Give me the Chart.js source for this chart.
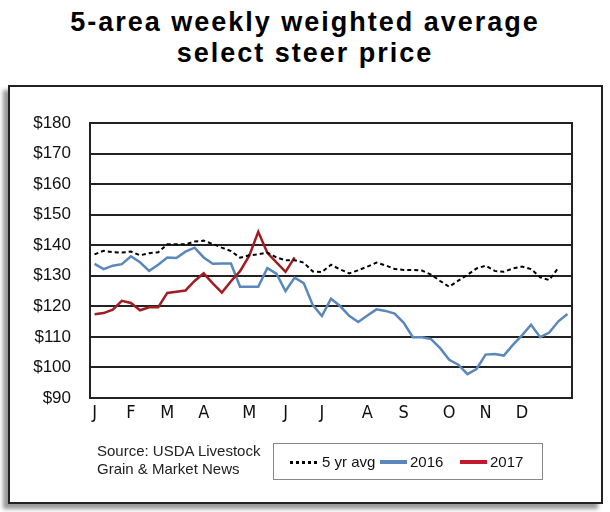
<!DOCTYPE html>
<html>
<head>
<meta charset="utf-8">
<script src="https://cdn.jsdelivr.net/npm/chart.js@4.4.1/dist/chart.umd.min.js"></script>
<style>
  html, body { margin: 0; padding: 0; background: #fff; }
  #page { position: relative; width: 610px; height: 512px; overflow: hidden; background: #fff; }
  #title {
    position: absolute; left: 0; top: 7px; width: 610px; text-align: center;
    font-family: "Liberation Sans", Arial, sans-serif; font-weight: bold;
    font-size: 27px; line-height: 31px; letter-spacing: 2px; color: #000;
  }
  #frame {
    position: absolute; left: 8px; top: 85px; width: 591px; height: 415px;
    border: 2px solid #222; box-shadow: -5px 5px 4px #999; background: #fff;
  }
  #chart { position: absolute; left: 0; top: 0; }
  #source {
    position: absolute; left: 97px; top: 442px;
    font-family: "Liberation Sans", Arial, sans-serif; font-size: 15px; line-height: 18px; color: #222;
  }
  #legend {
    position: absolute; left: 273px; top: 443px; width: 268px; height: 35px;
    border: 1px solid #888; background: #fff;
    font-family: "Liberation Sans", Arial, sans-serif; font-size: 15px; color: #111;
  }
  .item { position: absolute; top: 9px; line-height: 18px; }
  .swatch { position: absolute; top: 17px; width: 27px; }
</style>
</head>
<body>
<div id="page">
  <div id="title">5-area weekly weighted average<br>select steer price</div>
  <div id="frame"></div>
  <canvas id="chart" width="610" height="512"></canvas>
  <div id="source">Source: USDA Livestock<br>Grain &amp; Market News</div>
  <div id="legend">
    <div class="swatch" style="left:16px; border-top:3px dotted #000;"></div>
    <div class="item" style="left:48px;">5 yr avg</div>
    <div class="swatch" style="left:106px; top:16px; height:4px; background:#5b87bd;"></div>
    <div class="item" style="left:136px;">2016</div>
    <div class="swatch" style="left:186px; top:16px; height:4px; background:#c21a2c;"></div>
    <div class="item" style="left:216px;">2017</div>
  </div>
</div>
<script>
// month letters and the week each one sits on
const months = ['J', 'F', 'M', 'A', 'M', 'J', 'J', 'A', 'S', 'O', 'N', 'D'];
const monthWeeks = [0, 4, 8, 12, 17, 21, 25, 30, 34, 39, 43, 47];
const weekCount = 53;

// weekly prices, $/cwt
const fiveYrAvg = [137.0, 138.2, 137.7, 137.6, 137.9, 136.7, 137.4, 137.7, 140.3, 140.3,
  140.3, 141.2, 141.5, 140.4, 139.2, 138.1, 135.9, 136.7, 137.0, 137.6,
  136.0, 135.1, 135.1, 134.3, 131.4, 131.2, 133.6, 132.1, 130.8, 131.8,
  133.0, 134.3, 133.4, 132.2, 131.9, 131.9, 131.7, 130.4, 128.3, 126.4,
  128.4, 130.3, 132.4, 133.3, 131.6, 131.3, 132.4, 133.0, 132.2, 129.5,
  128.6, 132.6];
const y2016 = [133.9, 132.2, 133.3, 133.8, 136.4, 134.4, 131.6, 133.6, 136.0, 135.8,
  137.9, 139.2, 136.0, 133.9, 134.0, 134.0, 126.4, 126.4, 126.4, 132.5,
  130.7, 125.0, 129.4, 127.6, 120.4, 116.8, 122.5, 120.1, 116.9, 114.9,
  117.0, 119.0, 118.5, 117.6, 114.6, 109.9, 109.9, 109.3, 106.3, 102.5,
  100.9, 97.8, 99.5, 104.2, 104.4, 103.9, 107.4, 110.5, 114.0, 109.9,
  111.4, 115.1, 117.5];
const y2017 = [117.4, 117.8, 118.9, 121.8, 121.1, 118.7, 119.7, 119.7, 124.4, 124.8,
  125.2, 128.3, 130.8, 127.5, 124.5, 128.2, 131.5, 136.5, 144.4, 137.5,
  134.4, 131.3, 136.0];

const yMin = 90, yMax = 180, yStep = 10;

const labels = [];
for (let i = 0; i < weekCount; i++) labels.push('');
monthWeeks.forEach((w, i) => { labels[w] = months[i]; });

// outline round the plot area
const plotBorder = {
  id: 'plotBorder',
  afterDraw(chart) {
    const a = chart.chartArea;
    const ctx = chart.ctx;
    ctx.save();
    ctx.strokeStyle = '#222';
    ctx.lineWidth = 2;
    ctx.strokeRect(a.left, a.top, a.right - a.left, a.bottom - a.top);
    ctx.restore();
  }
};

new Chart(document.getElementById('chart'), {
  type: 'line',
  data: {
    labels: labels,
    datasets: [
      {
        label: '5 yr avg', data: fiveYrAvg, borderColor: '#000', borderWidth: 2,
        borderDash: [4, 3], pointRadius: 0, tension: 0, order: 1
      },
      {
        label: '2016', data: y2016, borderColor: '#5b87bd', borderWidth: 2.5,
        pointRadius: 0, tension: 0, order: 3
      },
      {
        label: '2017', data: y2017, borderColor: '#a11d24', borderWidth: 2.5,
        pointRadius: 0, tension: 0, order: 2
      }
    ]
  },
  options: {
    responsive: false,
    animation: false,
    layout: { padding: { top: 123, right: 38, left: 0, bottom: 0 } },
    plugins: { legend: { display: false }, tooltip: { enabled: false } },
    scales: {
      x: {
        offset: true,
        grid: { display: false, drawTicks: false },
        border: { display: false },
        ticks: {
          autoSkip: false, maxRotation: 0, padding: 5, color: '#111',
          font: { family: '"Liberation Sans Narrow", "Arial Narrow", "DejaVu Sans Condensed", sans-serif', size: 18 }
        },
        afterFit(scale) { scale.height = 114; }
      },
      y: {
        min: yMin, max: yMax,
        grid: { color: '#222', lineWidth: 2, drawTicks: false },
        border: { display: false },
        ticks: {
          stepSize: yStep, padding: 19, color: '#111',
          font: { family: '"Liberation Sans", Arial, sans-serif', size: 17 },
          callback: v => '$' + v
        },
        afterFit(scale) { scale.width = 90; }
      }
    }
  },
  plugins: [plotBorder]
});
</script>
</body>
</html>
